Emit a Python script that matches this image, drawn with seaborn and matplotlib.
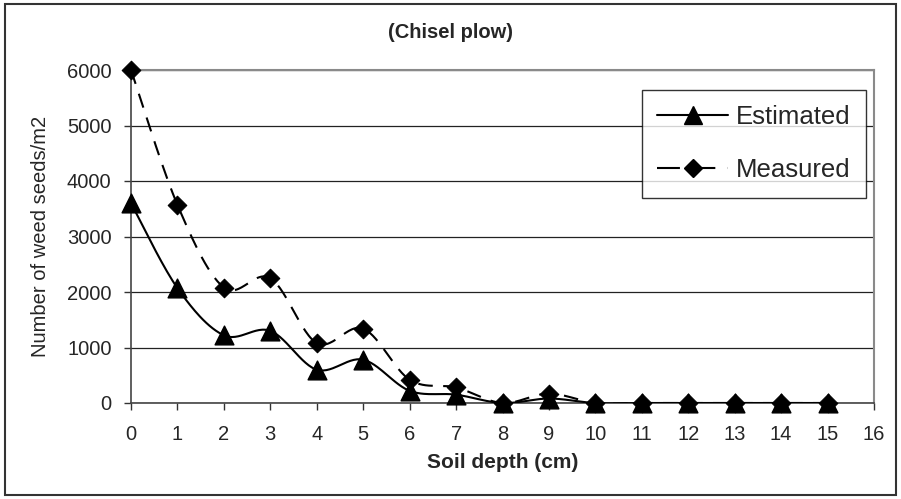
import numpy as np
import pandas as pd
import matplotlib
matplotlib.use("Agg")
import matplotlib.pyplot as plt
import seaborn as sns
from matplotlib.lines import Line2D
from matplotlib.patches import Rectangle

# data
depth = [0, 1, 2, 3, 4, 5, 6, 7, 8, 9, 10, 11, 12, 13, 14, 15]
estimated = [3600, 2070, 1220, 1300, 600, 780, 220, 150, 0, 80, 0, 0, 0, 0, 0, 0]
measured = [6000, 3570, 2080, 2250, 1080, 1340, 420, 280, 0, 170, 0, 0, 0, 0, 0, 0]


def smooth(x, y, n=30):
    # excel-like smoothed line (catmull-rom bezier)
    x = np.asarray(x, float)
    y = np.asarray(y, float)
    px = np.concatenate([[x[0]], x, [x[-1]]])
    py = np.concatenate([[y[0]], y, [y[-1]]])
    t = np.linspace(0, 1, n)
    xs, ys = [], []
    for i in range(1, len(px) - 2):
        p0 = np.array([px[i], py[i]])
        p3 = np.array([px[i + 1], py[i + 1]])
        b1 = p0 + (p3 - np.array([px[i - 1], py[i - 1]])) / 6
        b2 = p3 - (np.array([px[i + 2], py[i + 2]]) - p0) / 6
        c = ((1 - t) ** 3)[:, None] * p0 + (3 * (1 - t) ** 2 * t)[:, None] * b1 \
            + (3 * (1 - t) * t ** 2)[:, None] * b2 + (t ** 3)[:, None] * p3
        xs.extend(c[:, 0])
        ys.extend(c[:, 1])
    return np.array(xs), np.array(ys)


sns.set_style("white")
plt.rcParams["font.family"] = ["Liberation Sans", "DejaVu Sans"]

fig = plt.figure(figsize=(9.01, 4.99), dpi=100)
ax = fig.add_axes([131 / 901, 1 - 403 / 499, 743 / 901, 333 / 499])

ex, ey = smooth(depth, estimated)
mx, my = smooth(depth, measured)
sns.lineplot(x=mx, y=my, sort=False, ax=ax, color="black", lw=1.5, zorder=3)
ax.lines[-1].set_dashes([7, 5])
sns.lineplot(x=ex, y=ey, sort=False, ax=ax, color="black", lw=1.5, zorder=3)
sns.scatterplot(x=depth, y=measured, marker="D", s=90, color="black",
                edgecolor="black", ax=ax, zorder=4, clip_on=False)
sns.scatterplot(x=depth, y=estimated, marker="^", s=180, color="black",
                edgecolor="black", ax=ax, zorder=5, clip_on=False)

ax.set_xlim(0, 16)
ax.set_ylim(0, 6000)
ax.set_xticks(range(0, 17))
ax.set_yticks(range(0, 7000, 1000))
ax.tick_params(axis="both", labelsize=14.5, direction="out", length=5,
               width=1, color="#333333", bottom=True, left=True)
ax.tick_params(axis="x", pad=11)
ax.tick_params(axis="y", pad=9)
ax.yaxis.grid(True, color="#222222", lw=0.9)
ax.set_axisbelow(True)
for s in ["left", "bottom"]:
    ax.spines[s].set_color("#444444")
    ax.spines[s].set_linewidth(1.2)
for s in ["top", "right"]:
    ax.spines[s].set_color("#8a8a8a")
    ax.spines[s].set_linewidth(1.5)

ax.set_xlabel("Soil depth (cm)", fontsize=15, fontweight="bold", labelpad=6)
ax.set_ylabel("Number of weed seeds/m2", fontsize=14.5, labelpad=12)
fig.text(0.5, 0.935, "(Chisel plow)", ha="center", va="center",
         fontsize=14.5, fontweight="bold")

handles = [
    Line2D([], [], color="black", lw=1.5, marker="^", markersize=13),
    Line2D([], [], color="black", lw=1.5, ls=(0, (11, 6)), marker="D", markersize=9),
]
leg = ax.legend(handles, ["Estimated", "Measured"], loc="upper right",
                bbox_to_anchor=(0.989, 0.94), fontsize=18.5, frameon=True,
                fancybox=False, edgecolor="black", handlelength=2.75,
                labelspacing=1.12, borderpad=0.6, handletextpad=0.3,
                borderaxespad=0)
leg.get_frame().set_linewidth(1.0)

fig.patches.append(Rectangle((0.006, 0.008), 0.988, 0.984, transform=fig.transFigure,
                             fill=False, edgecolor="#333333", lw=1.5))

fig.savefig("out.png", dpi=100)
